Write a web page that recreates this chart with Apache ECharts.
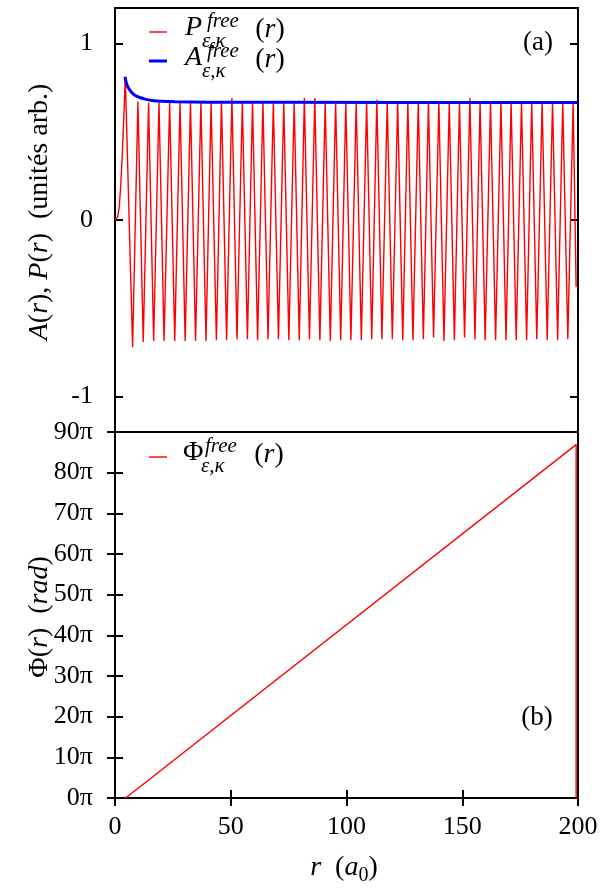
<!DOCTYPE html>
<html>
<head>
<meta charset="utf-8">
<script src="https://cdn.jsdelivr.net/npm/echarts@6/dist/echarts.min.js"></script>
<style>
  html, body { margin: 0; padding: 0; background: #fff; }
  #chart { width: 605px; height: 890px; }
</style>
</head>
<body>
<div id="chart"></div>
<script>
// 数据：P(r) 起始段、峰、谷、末点
const rStart = [0, 0.6, 1.2, 1.8, 2.4, 3.0, 3.6];
const pStart = [0, 0.003, 0.02, 0.07, 0.18, 0.33, 0.51];

const rPeak = [4.45, 9.9, 14.5, 19.0, 23.6, 28.1, 32.6, 37.1, 41.5, 46.0,
  50.5, 55.0, 59.4, 63.9, 68.4, 72.9, 77.4, 81.8, 86.3, 90.8,
  95.3, 99.7, 104.2, 108.7, 113.1, 117.6, 122.1, 126.5, 131.0, 135.4,
  139.9, 144.4, 148.8, 153.3, 157.7, 162.2, 166.7, 171.1, 175.6, 180.0,
  184.5, 189.0, 193.4, 197.9];
const pPeak = [0.81, 0.67, 0.665, 0.665, 0.665, 0.665, 0.665, 0.665, 0.665, 0.675,
  0.69, 0.665, 0.665, 0.665, 0.665, 0.665, 0.665, 0.69, 0.69, 0.665,
  0.665, 0.665, 0.665, 0.665, 0.68, 0.665, 0.665, 0.665, 0.665, 0.665,
  0.665, 0.665, 0.665, 0.69, 0.665, 0.665, 0.665, 0.665, 0.665, 0.665,
  0.665, 0.665, 0.665, 0.665];

const rTrough = [7.6, 12.2, 16.7, 21.2, 25.8, 30.3, 34.8, 39.3, 43.8, 48.2,
  52.7, 57.2, 61.6, 66.1, 70.6, 75.1, 79.6, 84.0, 88.5, 93.0,
  97.5, 101.9, 106.4, 110.9, 115.3, 119.8, 124.3, 128.7, 133.2, 137.6,
  142.1, 146.6, 151.0, 155.5, 159.9, 164.4, 168.9, 173.3, 177.8, 182.2,
  186.7, 191.2, 195.6];
const pTrough = [-0.72, -0.69, -0.685, -0.685, -0.685, -0.685, -0.685, -0.685, -0.68, -0.68,
  -0.675, -0.675, -0.68, -0.675, -0.675, -0.68, -0.68, -0.675, -0.68, -0.685,
  -0.68, -0.68, -0.68, -0.675, -0.675, -0.675, -0.68, -0.68, -0.675, -0.665,
  -0.685, -0.68, -0.665, -0.675, -0.68, -0.68, -0.68, -0.68, -0.68, -0.675,
  -0.68, -0.68, -0.675];

const rEnd = [199.2];
const pEnd = [-0.38];

// 振幅 A(r)
const rAmp = [4.3, 4.8, 5.5, 6.5, 7.5, 9, 11, 13, 16, 20, 26, 40, 70, 200];
const aAmp = [0.81, 0.78, 0.755, 0.734, 0.718, 0.703, 0.692, 0.684, 0.677, 0.672, 0.669, 0.667, 0.666, 0.665];

// 相位 Φ(r)，单位 π
const rPhase = [4.6, 199.2, 199.2];
const phiPhase = [0, 86.9, 0];

// 刻度
const yTicksTop = [-1, 0, 1];

// 组装 P(r) 折线
const pData = [];
rStart.forEach((r, i) => pData.push([r, pStart[i]]));
rPeak.forEach((r, i) => {
  pData.push([r, pPeak[i]]);
  if (i < rTrough.length) pData.push([rTrough[i], pTrough[i]]);
});
rEnd.forEach((r, i) => pData.push([r, pEnd[i]]));

const aData = rAmp.map((r, i) => [r, aAmp[i]]);
const phiData = rPhase.map((r, i) => [r, phiPhase[i]]);

const FONT = '"Liberation Serif", "DejaVu Serif", serif';
const RED = '#ff0000';
const BLUE = '#0000ff';

const tickStyle = { show: true, inside: true, length: 8, lineStyle: { color: '#000', width: 2 } };
const labelStyle = { color: '#000', fontFamily: FONT, fontSize: 26 };

// 文本小工具
function txt(x, y, text, size, italic, align) {
  return {
    type: 'text', x: x, y: y, silent: true,
    style: {
      text: text,
      font: (italic ? 'italic ' : '') + size + 'px ' + FONT,
      fill: '#000',
      textAlign: align || 'left', align: align || 'left',
      textVerticalAlign: 'middle', verticalAlign: 'middle'
    }
  };
}
function richTxt(x, y, text, rotation, size) {
  const fs = size || 26;
  return {
    type: 'text', x: x, y: y, rotation: rotation || 0, silent: true,
    style: {
      text: text,
      font: fs + 'px ' + FONT,
      fill: '#000',
      textAlign: 'center', align: 'center',
      textVerticalAlign: 'middle', verticalAlign: 'middle',
      rich: {
        n: { fontFamily: FONT, fontSize: fs, lineHeight: 36, verticalAlign: 'middle' },
        i: { fontFamily: FONT, fontSize: fs, fontStyle: 'italic', lineHeight: 36, verticalAlign: 'middle' },
        sub: { fontFamily: FONT, fontSize: 20, lineHeight: 20, verticalAlign: 'bottom' }
      }
    }
  };
}
function legLine(y, color, w) {
  return {
    type: 'line', silent: true,
    shape: { x1: 149, y1: y, x2: 167, y2: y },
    style: { stroke: color, lineWidth: w }
  };
}

const chart = echarts.init(document.getElementById('chart'), null, { renderer: 'canvas' });

chart.setOption({
  animation: false,
  backgroundColor: '#fff',
  grid: [
    { left: 115, top: 8, width: 463, height: 424, show: true, borderColor: '#000', borderWidth: 2, backgroundColor: 'transparent' },
    { left: 115, top: 432, width: 463, height: 366, show: true, borderColor: '#000', borderWidth: 2, backgroundColor: 'transparent' }
  ],
  xAxis: [
    { type: 'value', gridIndex: 0, min: 0, max: 200, show: false },
    {
      type: 'value', gridIndex: 1, min: 0, max: 200, interval: 50,
      axisLine: { show: false }, splitLine: { show: false },
      axisTick: tickStyle,
      axisLabel: Object.assign({ margin: 16 }, labelStyle)
    },
    {
      type: 'value', gridIndex: 1, min: 0, max: 200, interval: 50, position: 'top',
      axisLine: { show: false }, splitLine: { show: false },
      axisTick: tickStyle, axisLabel: { show: false }
    }
  ],
  yAxis: [
    {
      type: 'value', gridIndex: 0, min: -1.2, max: 1.2,
      axisLine: { show: false }, splitLine: { show: false },
      axisTick: Object.assign({ customValues: yTicksTop }, tickStyle),
      axisLabel: Object.assign({ margin: 22, customValues: yTicksTop }, labelStyle)
    },
    {
      type: 'value', gridIndex: 0, min: -1.2, max: 1.2, position: 'right',
      axisLine: { show: false }, splitLine: { show: false },
      axisTick: Object.assign({ customValues: yTicksTop }, tickStyle),
      axisLabel: { show: false }
    },
    {
      type: 'value', gridIndex: 1, min: 0, max: 90, interval: 10,
      axisLine: { show: false }, splitLine: { show: false },
      axisTick: tickStyle,
      axisLabel: Object.assign({ margin: 22, formatter: '{value}π' }, labelStyle)
    },
    {
      type: 'value', gridIndex: 1, min: 0, max: 90, interval: 10, position: 'right',
      axisLine: { show: false }, splitLine: { show: false },
      axisTick: tickStyle, axisLabel: { show: false }
    }
  ],
  series: [
    {
      name: 'P', type: 'line', xAxisIndex: 0, yAxisIndex: 0, data: pData,
      showSymbol: false, lineStyle: { color: RED, width: 1.4 }, z: 3
    },
    {
      name: 'A', type: 'line', xAxisIndex: 0, yAxisIndex: 0, data: aData,
      showSymbol: false, smooth: 0.3, lineStyle: { color: BLUE, width: 3 }, z: 4
    },
    {
      name: 'Phi', type: 'line', xAxisIndex: 1, yAxisIndex: 2, data: phiData,
      showSymbol: false, lineStyle: { color: RED, width: 1.4 }, z: 3
    }
  ],
  graphic: [
    // 图例 (a)
    legLine(32, RED, 1.4),
    txt(185, 28, 'P', 28, true),
    txt(207, 21, 'free', 21, true),
    txt(202, 41, 'ε,κ', 21, true),
    richTxt(270, 30, '({i|r})', 0, 28),
    legLine(61, BLUE, 3),
    txt(185, 58, 'A', 28, true),
    txt(207, 51, 'free', 21, true),
    txt(202, 71, 'ε,κ', 21, true),
    richTxt(270, 60, '({i|r})', 0, 28),
    // 图例 (b)
    legLine(457, RED, 1.4),
    txt(183, 453, 'Φ', 28, false),
    txt(205, 446, 'free', 21, true),
    txt(201, 466, 'ε,κ', 21, true),
    richTxt(269, 455, '({i|r})', 0, 28),
    // 面板标记
    txt(538, 43, '(a)', 27, false, 'center'),
    txt(537, 718, '(b)', 27, false, 'center'),
    // 轴标题
    richTxt(40, 212, '{i|A}({i|r}), {i|P}({i|r})  (unités arb.)', Math.PI / 2, 28),
    richTxt(40, 617, 'Φ({i|r})  ({i|rad})', Math.PI / 2, 28),
    richTxt(344, 868, '{i|r}  ({i|a}{sub|0})', 0, 28)
  ]
});
</script>
</body>
</html>
